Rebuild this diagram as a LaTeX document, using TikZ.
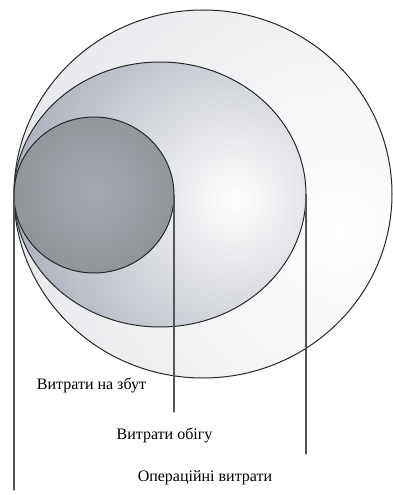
\documentclass[tikz,border=0pt]{standalone}
\usepackage{fontspec}
\setmainfont{Liberation Serif}
\usetikzlibrary{shapes.geometric,positioning}
\definecolor{ringline}{RGB}{40,40,42}
\definecolor{leadgray}{RGB}{85,85,88}
\definecolor{outerfill}{RGB}{232,233,236}
\definecolor{midfill}{RGB}{172,177,187}
\definecolor{innerfill}{RGB}{122,127,129}
\definecolor{innerlight}{RGB}{166,170,177}
\begin{document}
\begin{tikzpicture}[x=1pt,y=-1pt,line cap=round,
 ring/.style={ellipse,draw=ringline,line width=1pt,inner sep=0pt,outer sep=0pt},
 leader/.style={leadgray,line width=1.2pt},
 lbl/.style={font=\fontsize{16}{18}\selectfont,inner sep=0pt}]
\useasboundingbox (0,0) rectangle (393,495);
\node[ring,minimum width=378pt,minimum height=368pt,
 path picture={\shade[inner color=white,outer color=outerfill]
 ([xshift=137pt,yshift=-36pt]path picture bounding box.center)
 ++(-330pt,-330pt) rectangle ++(660pt,660pt);}]
 (outer) at (203,194) {};
\node[ring,minimum width=292pt,minimum height=265pt,
 path picture={\shade[inner color=white,outer color=midfill]
 ([xshift=75pt,yshift=-5pt]path picture bounding box.center)
 ++(-220pt,-220pt) rectangle ++(440pt,440pt);}]
 (middle) at (160,194.5) {};
\node[ring,minimum width=160pt,minimum height=156pt,
 path picture={\shade[inner color=innerlight,outer color=innerfill]
 ([yshift=5pt]path picture bounding box.center)
 ++(-170pt,-170pt) rectangle ++(340pt,340pt);}]
 (inner) at (94,195) {};
\node[lbl] (zbut) at (91.5,385) {Витрати на збут};
\node[lbl] (obig) at (164.5,435) {Витрати обігу};
\node[lbl] (oper) at (205,478) {Операційні витрати};
\coordinate (zbutend) at (14,490);
\coordinate (obigend) at (174,412);
\coordinate (operend) at (306,454);
\draw[leader] (inner.west) -- (zbutend);
\draw[leader] (inner.east) -- (obigend);
\draw[leader] (middle.east) -- (operend);
\end{tikzpicture}
\end{document}
